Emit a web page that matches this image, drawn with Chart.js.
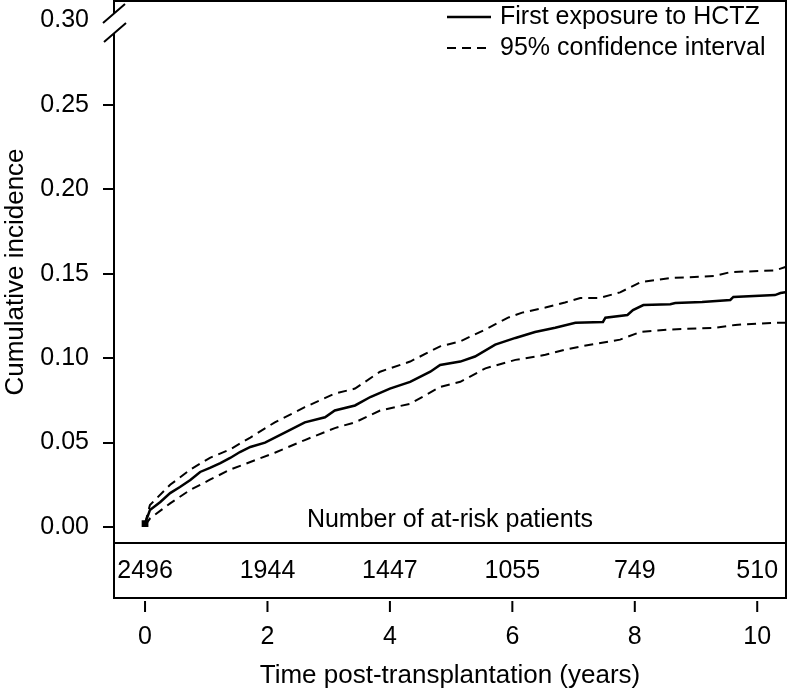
<!DOCTYPE html>
<html>
<head>
<meta charset="utf-8">
<script src="https://cdn.jsdelivr.net/npm/chart.js@4.4.1/dist/chart.umd.min.js"></script>
<style>
  html, body { margin: 0; padding: 0; background: #fff; overflow: hidden; }
  canvas { display: block; }
</style>
</head>
<body>
<canvas id="cifChart" width="787" height="691"></canvas>
<script>
// cumulative incidence of first HCTZ exposure
const cifTimes  = [0, 0.08, 0.25, 0.41, 0.57, 0.74, 0.90, 1.06, 1.23, 1.39, 1.55, 1.72, 1.96, 2.29, 2.61, 2.94, 3.10, 3.43, 3.68, 4.00, 4.33, 4.66, 4.82, 5.15, 5.39, 5.72, 6.05, 6.37, 6.70, 7.03, 7.48, 7.52, 7.88, 7.97, 8.14, 8.58, 8.66, 9.10, 9.56, 9.61, 10.29, 10.38, 10.46];
const cifValues = [0.002, 0.010, 0.0148, 0.0201, 0.0237, 0.0278, 0.0326, 0.0350, 0.0379, 0.0409, 0.0444, 0.0474, 0.050, 0.056, 0.062, 0.065, 0.069, 0.072, 0.077, 0.082, 0.086, 0.092, 0.096, 0.098, 0.101, 0.108, 0.112, 0.1155, 0.118, 0.121, 0.1215, 0.124, 0.1256, 0.1285, 0.1315, 0.132, 0.1327, 0.1333, 0.1345, 0.1363, 0.1374, 0.1386, 0.139];

// 95% confidence band
const upperTimes  = [0, 0.08, 0.41, 0.74, 1.06, 1.39, 1.72, 2.12, 2.61, 3.10, 3.43, 3.84, 4.33, 4.82, 5.15, 5.56, 5.93, 6.16, 6.54, 6.86, 7.11, 7.43, 7.76, 8.09, 8.58, 9.31, 9.56, 10.29, 10.46];
const upperValues = [0.002, 0.013, 0.025, 0.034, 0.041, 0.046, 0.053, 0.062, 0.071, 0.079, 0.082, 0.092, 0.098, 0.107, 0.110, 0.117, 0.124, 0.127, 0.130, 0.133, 0.1357, 0.1357, 0.139, 0.145, 0.1475, 0.1487, 0.151, 0.152, 0.154];
const lowerTimes  = [0, 0.08, 0.41, 0.74, 1.06, 1.39, 1.72, 2.12, 2.61, 3.10, 3.43, 3.84, 4.33, 4.82, 5.15, 5.56, 6.05, 6.54, 6.86, 7.27, 7.76, 8.09, 8.58, 9.31, 9.64, 10.29, 10.46];
const lowerValues = [0.001, 0.005, 0.014, 0.022, 0.028, 0.034, 0.0385, 0.044, 0.0515, 0.0586, 0.062, 0.069, 0.073, 0.083, 0.086, 0.094, 0.099, 0.102, 0.105, 0.108, 0.111, 0.1155, 0.117, 0.118, 0.1197, 0.121, 0.121];

const xTicks = [0, 2, 4, 6, 8, 10];
const yTicks = [0, 0.05, 0.10, 0.15, 0.20, 0.25, 0.30];
const atRiskCounts = [2496, 1944, 1447, 1055, 749, 510];
const legendLabels = ['First exposure to HCTZ', '95% confidence interval'];

const FONT = "'Liberation Sans', Arial, Helvetica, sans-serif";
const DASH = [9, 6];

const toPoints = (xs, ys) => xs.map((t, i) => ({ x: t, y: ys[i] }));

// scales would otherwise push the plot area in to make room for edge labels
const noEdgePadding = s => {
    s.paddingTop = 0;
    s.paddingBottom = 0;
    s.paddingLeft = 0;
    s.paddingRight = 0;
};

// frame, axis break, at-risk table and legend
const framePlugin = {
    id: 'frame',
    afterDraw(chart) {
        const { ctx, chartArea: a, scales: { x } } = chart;
        const tableBottom = a.bottom + 55;
        ctx.save();
        ctx.strokeStyle = '#000';
        ctx.fillStyle = '#000';
        ctx.lineWidth = 2;
        ctx.setLineDash([]);

        ctx.beginPath();
        ctx.moveTo(a.left, a.top + 13);
        ctx.lineTo(a.left, a.top);
        ctx.lineTo(a.right, a.top);
        ctx.lineTo(a.right, tableBottom);
        ctx.lineTo(a.left, tableBottom);
        ctx.lineTo(a.left, a.top + 32);
        ctx.moveTo(a.left, a.bottom);
        ctx.lineTo(a.right, a.bottom);
        // break marks on the y axis
        ctx.moveTo(a.left - 11, a.top + 22);
        ctx.lineTo(a.left + 11, a.top + 3);
        ctx.moveTo(a.left - 10, a.top + 41);
        ctx.lineTo(a.left + 12, a.top + 22);
        // x tick marks under the table
        xTicks.forEach(v => {
            const px = x.getPixelForValue(v);
            ctx.moveTo(px, tableBottom + 3);
            ctx.lineTo(px, tableBottom + 14);
        });
        ctx.stroke();

        ctx.font = '25px ' + FONT;
        ctx.textAlign = 'center';
        ctx.textBaseline = 'middle';
        ctx.fillText('Number of at-risk patients', (a.left + a.right) / 2, a.bottom - 23);
        atRiskCounts.forEach((n, i) => {
            ctx.fillText(String(n), x.getPixelForValue(xTicks[i]), (a.bottom + tableBottom) / 2 + 1);
        });

        // legend
        ctx.textAlign = 'left';
        const rows = [a.top + 16, a.top + 47];
        rows.forEach((ry, i) => {
            ctx.setLineDash(i === 0 ? [] : DASH);
            ctx.lineWidth = i === 0 ? 2.5 : 2;
            ctx.beginPath();
            ctx.moveTo(447, ry);
            ctx.lineTo(491, ry);
            ctx.stroke();
            ctx.fillText(legendLabels[i], 500, ry);
        });
        ctx.restore();
    }
};

const ctx = document.getElementById('cifChart');
new Chart(ctx, {
    type: 'line',
    data: {
        datasets: [
            {
                label: legendLabels[0],
                data: toPoints(cifTimes, cifValues),
                borderColor: '#000',
                backgroundColor: '#000',
                borderWidth: 2.5,
                tension: 0,
                pointStyle: 'rect',
                pointRadius: c => c.dataIndex === 0 ? 3 : 0,
                fill: false
            },
            {
                label: legendLabels[1],
                data: toPoints(upperTimes, upperValues),
                borderColor: '#000',
                borderWidth: 2,
                borderDash: DASH,
                pointRadius: 0,
                tension: 0,
                fill: false
            },
            {
                label: 'lower',
                data: toPoints(lowerTimes, lowerValues),
                borderColor: '#000',
                borderWidth: 2,
                borderDash: DASH,
                pointRadius: 0,
                tension: 0,
                fill: false
            }
        ]
    },
    options: {
        responsive: false,
        animation: false,
        devicePixelRatio: 1,
        layout: { autoPadding: false, padding: { top: 1, right: 1, left: 0, bottom: 0 } },
        plugins: {
            legend: { display: false },
            tooltip: { enabled: false }
        },
        scales: {
            x: {
                type: 'linear',
                min: -0.507,
                max: 10.47,
                afterBuildTicks: s => { s.ticks = xTicks.map(v => ({ value: v })); },
                afterFit: s => { s.height = 148; noEdgePadding(s); },
                grid: { display: false, drawTicks: false },
                border: { display: false },
                ticks: {
                    color: '#000',
                    padding: 79,
                    maxRotation: 0,
                    font: { size: 25, family: FONT }
                },
                title: {
                    display: true,
                    text: 'Time post-transplantation (years)',
                    color: '#000',
                    padding: { top: 0, bottom: 0 },
                    font: { size: 26, family: FONT }
                }
            },
            y: {
                type: 'linear',
                min: -0.00948,
                max: 0.3116,
                afterBuildTicks: s => { s.ticks = yTicks.map(v => ({ value: v })); },
                afterFit: s => { s.width = 114; noEdgePadding(s); },
                grid: {
                    drawOnChartArea: false,
                    tickLength: 11,
                    lineWidth: 2,
                    color: c => (c.tick && c.tick.value > 0.29) ? 'rgba(0,0,0,0)' : '#000'
                },
                border: { display: false },
                ticks: {
                    color: '#000',
                    padding: 14,
                    font: { size: 25, family: FONT },
                    callback: v => Number(v).toFixed(2)
                },
                title: {
                    display: true,
                    text: 'Cumulative incidence',
                    color: '#000',
                    padding: { top: 0, bottom: 0 },
                    font: { size: 26, family: FONT }
                }
            }
        }
    },
    plugins: [framePlugin]
});
</script>
</body>
</html>
